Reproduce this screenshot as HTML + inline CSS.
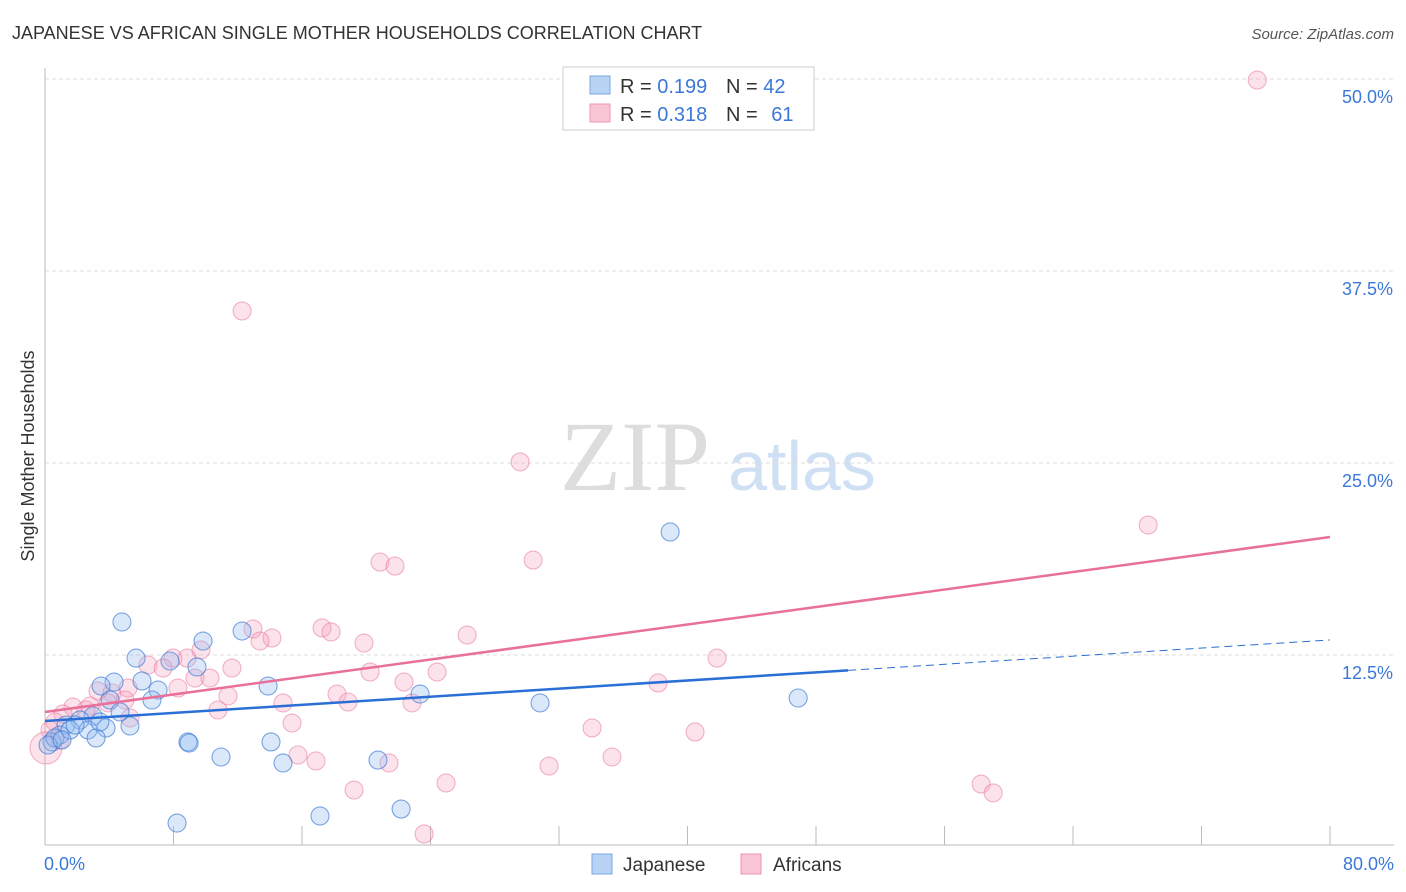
<!DOCTYPE html>
<html><head><meta charset="utf-8"><style>
body{margin:0;background:#fff;font-family:"Liberation Sans",sans-serif;}
svg{display:block}
</style></head><body>
<svg id="chart" width="1406" height="892">
<text x="12" y="39" font-size="18" fill="#333">JAPANESE VS AFRICAN SINGLE MOTHER HOUSEHOLDS CORRELATION CHART</text>
<text x="1394" y="39" font-size="15" fill="#555" font-style="italic" text-anchor="end">Source: ZipAtlas.com</text>
<text x="635" y="490" font-size="100" fill="#ddd" font-family="Liberation Serif,serif" text-anchor="middle">ZIP</text>
<text x="802" y="490" font-size="70" fill="#cfe0f5" text-anchor="middle">atlas</text>
<text transform="translate(34,456) rotate(-90)" font-size="18" fill="#333" text-anchor="middle">Single Mother Households</text>
<g id="grid"></g><g id="marks"></g>
<g>
<rect x="563" y="67" width="251" height="63" fill="#fff" stroke="#ccc"/>
<rect x="590" y="76" width="20" height="18" fill="#b9d3f5" stroke="#7aa7e0"/>
<rect x="590" y="104" width="20" height="18" fill="#f9c6d6" stroke="#ec94b2"/>
<text x="620" y="93" font-size="20" fill="#333">R = <tspan fill="#3b78d8">0.199</tspan></text>
<text x="726" y="93" font-size="20" fill="#333">N = <tspan fill="#3b78d8">42</tspan></text>
<text x="620" y="121" font-size="20" fill="#333">R = <tspan fill="#3b78d8">0.318</tspan></text>
<text x="726" y="121" font-size="20" fill="#333">N = <tspan fill="#3b78d8" dx="8">61</tspan></text>
</g>
<g>
<rect x="592" y="854" width="20" height="20" fill="#b9d3f5" stroke="#7aa7e0"/>
<text x="623" y="871" font-size="19" fill="#333">Japanese</text>
<rect x="741" y="854" width="20" height="20" fill="#f9c6d6" stroke="#ec94b2"/>
<text x="773" y="871" font-size="19" fill="#333">Africans</text>
</g>
</svg>
<script>
const yTicks=[12.5,25,37.5,50];
const yTickLabels=["12.5%","25.0%","37.5%","50.0%"];
const xTickLabels=["0.0%","80.0%"];
const japX=[4.79,5.67,4.30,3.49,6.04,7.04,6.66,7.78,9.46,9.84,12.27,13.89,4.05,4.67,2.99,2.18,1.31,2.68,3.80,5.29,3.18,0.93,0.44,0.62,8.90,8.97,10.96,14.07,14.82,8.22,17.12,20.73,22.17,23.35,30.82,38.92,46.89,1.56,1.87,0.19,1.06,3.42];
const japY=[14.65,12.30,10.74,10.48,10.81,10.22,9.57,12.11,11.72,13.41,14.06,10.48,9.57,8.79,8.53,8.27,7.94,7.62,7.75,7.88,7.10,7.29,6.84,7.10,6.84,6.77,5.86,6.84,5.47,1.56,2.02,5.66,2.47,9.96,9.38,20.51,9.70,7.62,7.94,6.64,6.97,8.14];
const afrX=[75.47,12.27,29.58,68.68,20.86,21.79,30.39,12.95,17.25,17.81,14.13,13.39,19.86,26.28,41.84,6.41,7.97,7.35,8.84,9.71,11.64,9.34,10.27,8.28,11.39,14.82,10.77,18.18,18.87,22.35,20.24,24.41,22.85,38.17,15.38,5.29,3.30,4.17,5.17,4.98,3.92,2.80,1.74,2.55,1.12,0.62,0.31,0.06,0.93,15.75,16.87,21.42,19.24,24.97,31.38,34.06,35.30,40.47,58.28,59.03,23.60];
const afrY=[49.93,34.90,25.07,20.96,18.55,18.29,18.68,14.19,14.26,14.00,13.61,13.41,13.28,13.80,12.30,11.85,12.30,11.65,12.30,12.83,11.65,11.00,11.00,10.35,9.83,9.38,8.92,9.96,9.44,10.74,11.39,11.39,9.38,10.68,8.07,8.40,10.16,10.03,10.35,9.57,9.38,9.18,9.11,8.92,8.66,8.14,7.62,6.45,6.97,5.99,5.60,5.47,3.71,4.17,5.27,7.75,5.86,7.49,4.10,3.52,0.85];
const japTrend=[8.20,13.48];
const japSolidEnd=[50];
const afrTrend=[8.79,20.18];
const NS="http://www.w3.org/2000/svg";
const X0=45,X1=1330,Ybase=847;
const sx=v=>X0+(v/80)*(X1-X0);
const sy=v=>Ybase-v*15.36;
function mk(tag,attrs,parent){const e=document.createElementNS(NS,tag);for(const k in attrs)e.setAttribute(k,attrs[k]);parent.appendChild(e);return e;}
const grid=document.getElementById('grid'),marks=document.getElementById('marks');
yTicks.forEach((t,i)=>{
 const l=mk('line',{x1:X0,x2:1394,y1:sy(t),y2:sy(t),stroke:'#ddd','stroke-dasharray':'4,3'},grid);
 
 
 const tx=mk('text',{x:1393,y:sy(t)+24,'font-size':18,fill:'#3b78d8','text-anchor':'end'},grid);
 tx.textContent=yTickLabels[i];
 
 
});
const ax=mk('line',{x1:X0,x2:X0,y1:68,y2:845,stroke:'#bbb'},grid);


const bx=mk('line',{x1:X0,x2:1394,y1:845,y2:845,stroke:'#bbb'},grid);


for(let i=0;i<=10;i++){
 const t=mk('line',{x1:sx(i*8),x2:sx(i*8),y1:826,y2:845,stroke:'#bbb'},grid);
 
 
}
[[0,'start',44],[80,'end',1394]].forEach((a,i)=>{
 const tx=mk('text',{x:a[2],y:870,'font-size':18,fill:'#3b78d8','text-anchor':a[1]},grid);
 tx.textContent=xTickLabels[i];
 
 
});
afrX.forEach((x,i)=>{
 const big=(x<0.1);
 const c=mk('circle',{cx:sx(x),cy:sy(afrY[i]),r:big?16:9,fill:'rgba(245,160,190,0.3)',stroke:'rgba(232,120,160,0.55)','stroke-width':1.1},marks);
 
 
});
japX.forEach((x,i)=>{
 const c=mk('circle',{cx:sx(x),cy:sy(japY[i]),r:9,fill:'rgba(150,190,240,0.35)',stroke:'rgba(60,120,210,0.65)','stroke-width':1.1},marks);
 
 
});
const jy=x=>japTrend[0]+(japTrend[1]-japTrend[0])*x/80;
const ay=x=>afrTrend[0]+(afrTrend[1]-afrTrend[0])*x/80;
const pl=mk('line',{x1:sx(0),y1:sy(ay(0)),x2:sx(80),y2:sy(ay(80)),stroke:'#e8709a','stroke-width':2.5},marks);


const jl=mk('line',{x1:sx(0),y1:sy(jy(0)),x2:sx(japSolidEnd[0]),y2:sy(jy(japSolidEnd[0])),stroke:'#2a6fd6','stroke-width':2.5},marks);


const jd=mk('line',{x1:sx(japSolidEnd[0]),y1:sy(jy(japSolidEnd[0])),x2:sx(80),y2:sy(jy(80)),stroke:'#2a6fd6','stroke-width':1,'stroke-dasharray':'8,5'},marks);


</script>
</body></html>
